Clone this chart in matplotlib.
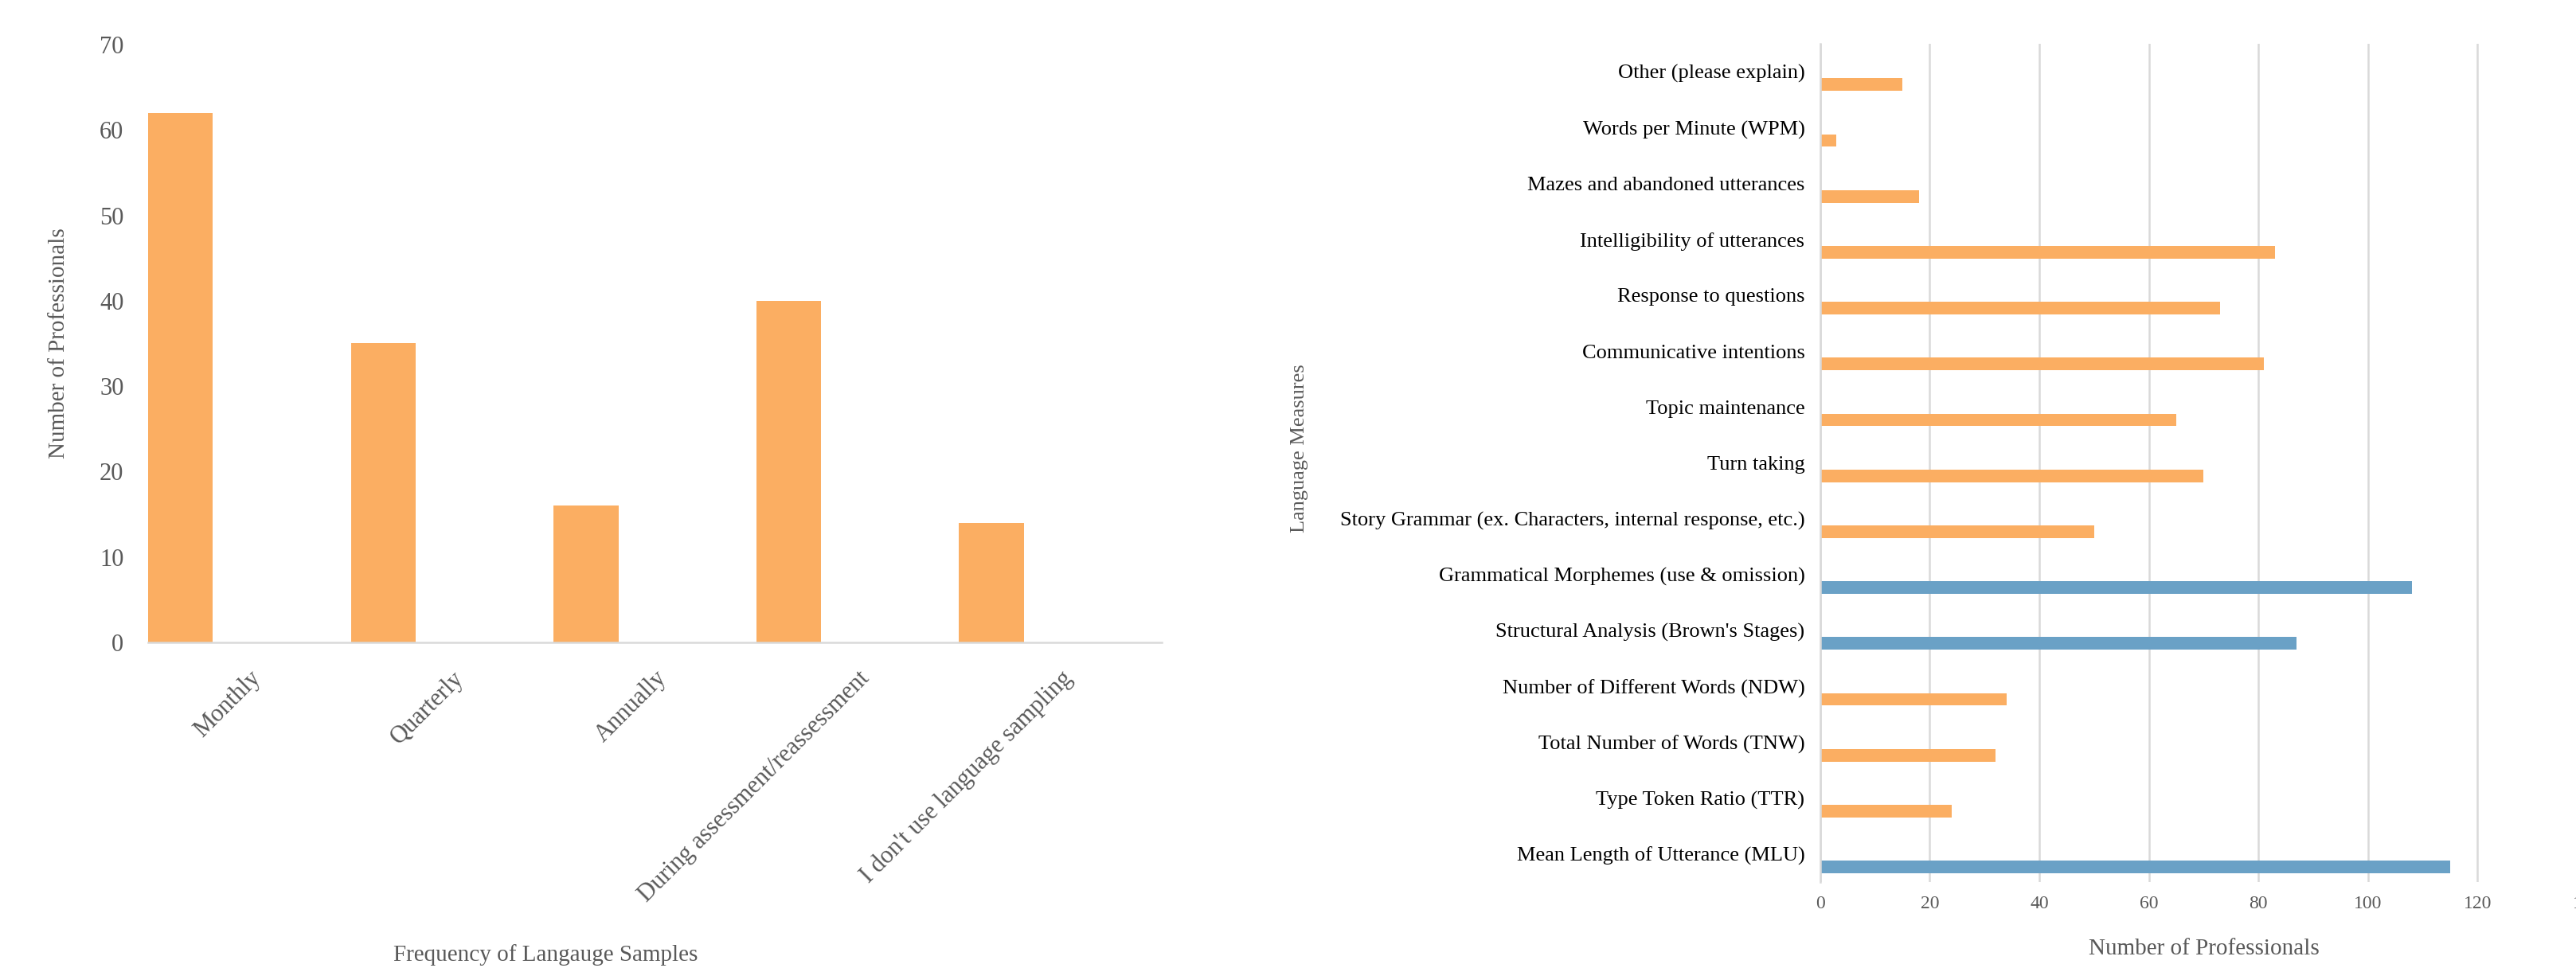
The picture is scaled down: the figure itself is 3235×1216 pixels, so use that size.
import numpy as np
import matplotlib
matplotlib.use("Agg")
import matplotlib.pyplot as plt

plt.rcParams['font.family'] = ['Liberation Serif', 'DejaVu Serif']

# left chart: how often language samples are taken
freq_labels = ["Monthly", "Quarterly", "Annually",
               "During assessment/reassessment", "I don't use language sampling"]
freq_counts = [62, 35, 16, 40, 14]

# right chart: language measures used
measure_labels = [
    "Other (please explain)",
    "Words per Minute (WPM)",
    "Mazes and abandoned utterances",
    "Intelligibility of utterances",
    "Response to questions",
    "Communicative intentions",
    "Topic maintenance",
    "Turn taking",
    "Story Grammar (ex. Characters, internal response, etc.)",
    "Grammatical Morphemes (use & omission)",
    "Structural Analysis (Brown's Stages)",
    "Number of Different Words (NDW)",
    "Total Number of Words (TNW)",
    "Type Token Ratio (TTR)",
    "Mean Length of Utterance (MLU)",
]
measure_counts = [15, 3, 18, 83, 73, 81, 65, 70, 50, 108, 87, 34, 32, 24, 115]
highlighted = ["Grammatical Morphemes (use & omission)",
               "Structural Analysis (Brown's Stages)",
               "Mean Length of Utterance (MLU)"]

ORANGE = "#FBAE62"
BLUE = "#6AA1C6"
GRID = "#D9D9D9"
GRAY_TXT = "#595959"

fig = plt.figure(figsize=(32.35, 12.16), dpi=100)

# ---- left: column chart ----
ax1 = fig.add_axes([0.0575, 0.3363, 0.3935, 0.6177])
x = np.arange(len(freq_labels))
ax1.bar(x, freq_counts, width=0.32, align='edge', color=ORANGE, zorder=2)
ax1.set_xlim(0, len(freq_labels))
ax1.set_ylim(0, 70)
ax1.set_yticks(np.arange(0, 71, 10))
ax1.set_xticks(x + 0.5)
ax1.set_xticklabels(freq_labels, rotation=45, ha='right', va='top',
                    rotation_mode='anchor', fontsize=22, color=GRAY_TXT)
ax1.tick_params(axis='x', length=0, pad=22)
ax1.tick_params(axis='y', length=0, pad=22, labelsize=22, labelcolor=GRAY_TXT)
for s in ['top', 'right', 'left']:
    ax1.spines[s].set_visible(False)
ax1.spines['bottom'].set_color(GRID)
ax1.spines['bottom'].set_linewidth(1.8)
ax1.set_ylabel("Number of Professionals", fontsize=21, color=GRAY_TXT)
ax1.yaxis.set_label_coords(-0.078, 0.5)
fig.text(685 / 3235, 1 - 1200 / 1216, "Frequency of Langauge Samples",
         fontsize=21, color=GRAY_TXT, ha='center', va='center')

# ---- right: horizontal bar chart ----
ax2 = fig.add_axes([0.7066, 0.0888, 0.2977, 0.866])
y = np.arange(len(measure_labels))
colors = [BLUE if m in highlighted else ORANGE for m in measure_labels]
ax2.barh(y + 0.23, measure_counts, height=0.225, color=colors, zorder=2)
ax2.set_ylim(len(measure_labels) - 0.5, -0.5)
ax2.set_xlim(0, 140)
ax2.set_xticks(np.arange(0, 141, 20))
ax2.set_yticks(y)
ax2.set_yticklabels(measure_labels, fontsize=19, color='black')
ax2.tick_params(axis='y', length=0, pad=14)
ax2.tick_params(axis='x', length=0, pad=12, labelsize=17, labelcolor=GRAY_TXT)
ax2.grid(axis='x', color=GRID, linewidth=1.8, zorder=0)
for s in ['top', 'right', 'bottom']:
    ax2.spines[s].set_visible(False)
ax2.spines['left'].set_color(GRID)
ax2.spines['left'].set_linewidth(1.8)
ax2.set_xlabel("Number of Professionals", fontsize=21, color=GRAY_TXT, labelpad=24)
fig.text(1632 / 3235, 1 - 563 / 1216, "Language Measures", fontsize=19,
         color=GRAY_TXT, rotation=90, ha='center', va='center')

fig.savefig("out.png", dpi=100)
